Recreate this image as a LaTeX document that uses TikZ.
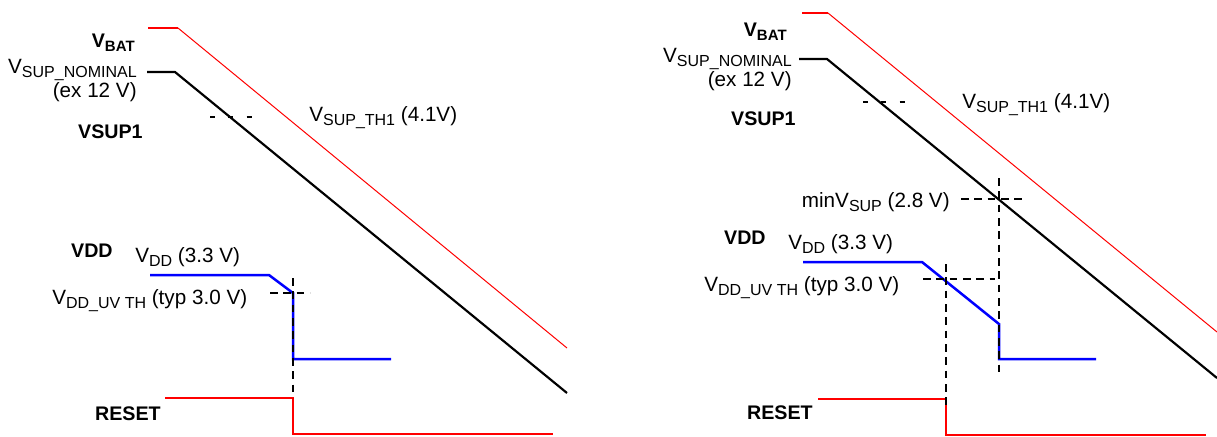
\documentclass[tikz,border=0pt]{standalone}
\usepackage{fontspec}
\setmainfont{Liberation Sans}
\newcommand{\lsub}[1]{\raisebox{-2.6pt}{\fontsize{9.6}{10}\selectfont #1}}
\newcommand{\bsub}[1]{\raisebox{-2.4pt}{\fontsize{9}{10}\selectfont #1}}

\begin{document}
\begin{tikzpicture}[x=0.6pt,y=-0.6pt,
		lbl/.style={inner sep=0pt,font=\fontsize{12.4}{14}\selectfont},
		blbl/.style={inner sep=0pt,font=\fontsize{11.8}{14}\selectfont\bfseries},
		thr/.style={dash pattern=on 4.5pt off 3.5pt,line width=0.8pt},
		thtick/.style={dash pattern=on 3pt off 8pt,line width=0.8pt},
		bat/.style={red,line width=0.6pt},
		sup/.style={black,line width=1.3pt},
		vdd/.style={blue,line width=1.5pt},
		rst/.style={red,line width=1.5pt}]
	\useasboundingbox (0,0) rectangle (1217,436);
			%%%%%%%% premier cas
			\draw[red,line width=1pt] (148,28)--(178,28);
			\draw[bat] (178,28)--(567,348);
			\draw[sup] (147,72)--(175,72)--(567,393);
			\draw[vdd] (150,275)--(269,275)--(293,293)--(293,359)--(391,359);
			\draw[rst] (165,398)--(293,398)--(293,434)--(553,434);
			\draw[thtick] (210,117)--(258,117);
			\draw[thr] (293,278)--(293,398);
			\draw[thr] (270,293)--(310,293);
			\node[blbl,anchor=base east] (bat1) at (135,47) {V\bsub{BAT}};
			\node[lbl,anchor=base east] (nom1) at (137,73) {V\lsub{SUP\_NOMINAL}};
			\node[lbl,anchor=base east] (ex1) at (137,97) {(ex 12 V)};
			\node[blbl,anchor=base east] (sup1) at (143,138) {VSUP1};
			\node[lbl,anchor=base west] (th1) at (309,121) {V\lsub{SUP\_TH1} (4.1V)};
			\node[blbl,anchor=base east] (vdd1) at (113,257) {VDD};
			\node[lbl,anchor=base west] (vddn1) at (135,262) {V\lsub{DD} (3.3 V)};
			\node[lbl,anchor=base west] (uv1) at (52,304) {V\lsub{DD\_UV TH} (typ 3.0 V)};
			\node[blbl,anchor=base east] (rst1) at (161,420) {RESET};
			%%%%%%%% second cas
			\draw[red,line width=1pt] (802,13)--(828,13);
			\draw[bat] (828,13)--(1217,332);
			\draw[sup] (799,59)--(827,59)--(1217,378);
			\draw[vdd] (803,262)--(922,262)--(999,324)--(999,359)--(1096,359);
			\draw[rst] (818,399)--(946,399)--(946,435)--(1206,435);
			\draw[thtick] (863,102)--(912,102);
			\draw[thr] (961,199)--(1025,199);
			\draw[thr] (999,178)--(999,372);
			\draw[thr] (923,279)--(995,279);
			\draw[thr] (946,264)--(946,410);
			\node[blbl,anchor=base east] (bat2) at (787,36) {V\bsub{BAT}};
			\node[lbl,anchor=base east] (nom2) at (792,62) {V\lsub{SUP\_NOMINAL}};
			\node[lbl,anchor=base east] (ex2) at (792,86) {(ex 12 V)};
			\node[blbl,anchor=base east] (sup2) at (796,125) {VSUP1};
			\node[lbl,anchor=base west] (th2) at (962,108) {V\lsub{SUP\_TH1} (4.1V)};
			\node[lbl,anchor=base east] (min2) at (950,207) {minV\lsub{SUP} (2.8 V)};
			\node[blbl,anchor=base east] (vdd2) at (766,244) {VDD};
			\node[lbl,anchor=base west] (vddn2) at (788,249) {V\lsub{DD} (3.3 V)};
			\node[lbl,anchor=base west] (uv2) at (704,291) {V\lsub{DD\_UV TH} (typ 3.0 V)};
			\node[blbl,anchor=base east] (rst2) at (813,419) {RESET};
\end{tikzpicture}
\end{document}
